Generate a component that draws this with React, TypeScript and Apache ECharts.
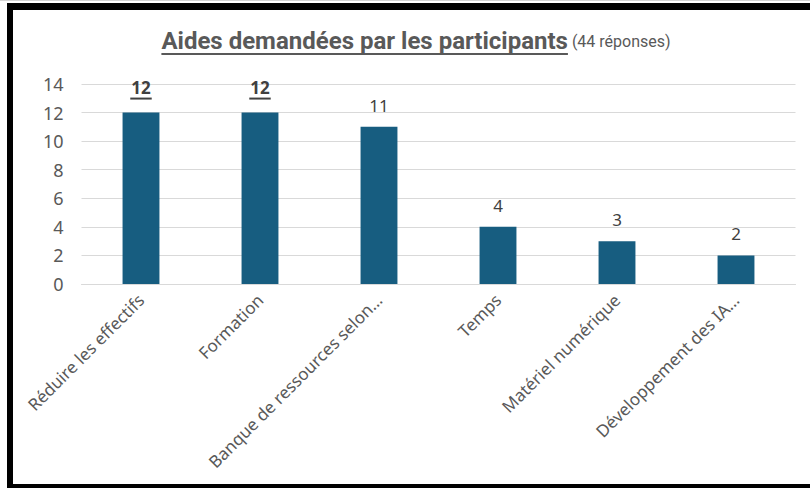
import React, { useEffect, useRef } from "react";
import * as echarts from "echarts";

const categories = [
  "Réduire les effectifs",
  "Formation",
  "Banque de ressources selon…",
  "Temps",
  "Matériel numérique",
  "Développement des IA…",
];
const values = [12, 12, 11, 4, 3, 2];
const highlighted = [true, true, false, false, false, false];
const yTicks = { min: 0, max: 14, interval: 2 };
const titleMain = "Aides demandées par les participants";
const titleSub = "(44 réponses)";

const TITLE_FONT = "'Roboto', sans-serif";
const BODY_FONT = "'Noto Sans', 'Open Sans', sans-serif";

function measure(text: string, font: string): number {
  const c = document.createElement("canvas");
  const ctx = c.getContext("2d");
  if (!ctx) return text.length * 10;
  ctx.font = font;
  return ctx.measureText(text).width;
}

export default function App() {
  const ref = useRef<HTMLDivElement>(null);
  useEffect(() => {
    if (!ref.current) return;
    const chart = echarts.init(ref.current, null, { renderer: "svg" });
    const mainW = measure(titleMain, `bold 24px ${TITLE_FONT}`);
    const subW = measure(" " + titleSub, `normal 16px ${TITLE_FONT}`);
    const total = mainW + subW;
    const left = 411 - total / 2;
    const labelW = measure("12", `bold 17px ${BODY_FONT}`);

    chart.setOption({
      animation: false,
      backgroundColor: "#ffffff",
      title: {
        left: left,
        top: 24,
        text: `{t|${titleMain}}{s| ${titleSub}}\n{u|}`,
        textStyle: {
          align: "left",
          fontWeight: "normal",
          rich: {
            t: {
              fontFamily: TITLE_FONT,
              fontWeight: "bold",
              fontSize: 24,
              color: "#595959",
              lineHeight: 24,
            },
            s: {
              fontFamily: TITLE_FONT,
              fontWeight: "normal",
              fontSize: 16,
              color: "#595959",
              lineHeight: 24,
            },
            u: {
              width: mainW,
              height: 2,
              lineHeight: 2,
              backgroundColor: "#595959",
            },
          },
        },
      },
      grid: { left: 81.5, right: 14.5, top: 84, bottom: 204, containLabel: false },
      xAxis: {
        type: "category",
        data: categories,
        axisLine: { lineStyle: { color: "#d9d9d9", width: 1 } },
        axisTick: { show: false },
        axisLabel: {
          rotate: 45,
          interval: 0,
          margin: 13,
          color: "#595959",
          fontFamily: BODY_FONT,
          fontSize: 17,
        },
      },
      yAxis: {
        type: "value",
        min: yTicks.min,
        max: yTicks.max,
        interval: yTicks.interval,
        axisLine: { show: false },
        axisTick: { show: false },
        splitLine: { lineStyle: { color: "#d9d9d9", width: 1 } },
        axisLabel: {
          color: "#595959",
          fontFamily: BODY_FONT,
          fontSize: 18,
          margin: 18,
        },
      },
      series: [
        {
          type: "bar",
          barWidth: "31%",
          itemStyle: { color: "#175d80" },
          data: values.map((v, i) => ({
            value: v,
            label: highlighted[i]
              ? {
                  formatter: "{b|{c}}\n{u|}",
                  rich: {
                    b: {
                      fontFamily: BODY_FONT,
                      fontSize: 17,
                      fontWeight: "bold",
                      color: "#404040",
                      lineHeight: 20,
                    },
                    u: {
                      width: labelW + 2,
                      height: 2,
                      lineHeight: 2,
                      backgroundColor: "#404040",
                    },
                  },
                }
              : undefined,
          })),
          label: {
            show: true,
            position: "top",
            distance: 13,
            color: "#404040",
            fontFamily: BODY_FONT,
            fontSize: 17,
          },
        },
      ],
      graphic: [
        {
          type: "rect",
          silent: true,
          shape: { x: 0, y: 0, width: 810, height: 1 },
          style: { fill: "#d4d4d4" },
        },
        {
          type: "rect",
          silent: true,
          shape: { x: 7, y: 3, width: 803, height: 7 },
          style: { fill: "#000000" },
        },
        {
          type: "rect",
          silent: true,
          shape: { x: 7, y: 3, width: 6, height: 485 },
          style: { fill: "#000000" },
        },
        {
          type: "rect",
          silent: true,
          shape: { x: 7, y: 484, width: 803, height: 4 },
          style: { fill: "#000000" },
        },
      ],
    });
    return () => chart.dispose();
  }, []);
  return (
    <div
      ref={ref}
      style={{ position: "fixed", left: 0, top: 0, width: 810, height: 488 }}
    />
  );
}
